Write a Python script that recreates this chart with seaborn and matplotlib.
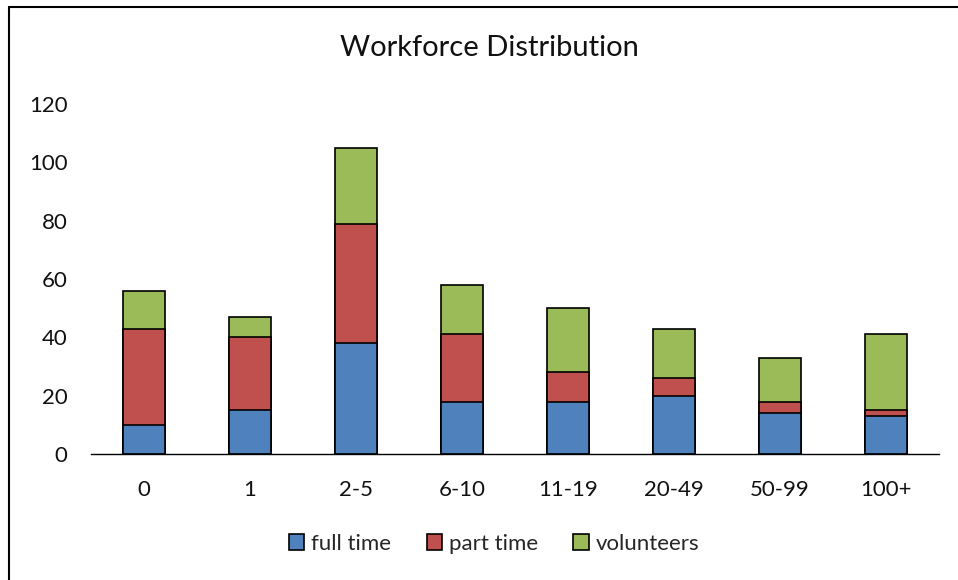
import numpy as np
import pandas as pd
import matplotlib
matplotlib.use("Agg")
import matplotlib.pyplot as plt
from matplotlib.lines import Line2D
import seaborn as sns

# data
sizes = ["0", "1", "2-5", "6-10", "11-19", "20-49", "50-99", "100+"]
full_time = [10, 15, 38, 18, 18, 20, 14, 13]
part_time = [33, 25, 41, 23, 10, 6, 4, 2]
volunteers = [13, 7, 26, 17, 22, 17, 15, 26]

df = pd.DataFrame({"size": sizes, "full time": full_time,
                   "part time": part_time, "volunteers": volunteers})
df["ft_pt"] = df["full time"] + df["part time"]
df["total"] = df["ft_pt"] + df["volunteers"]

sns.set_style("white")
plt.rcParams["font.family"] = ["Lato", "DejaVu Sans"]

fig = plt.figure(figsize=(9.58, 5.8), dpi=100)
ax = fig.add_axes([91/958, 1-454/580, (939-91)/958, (454-104)/580])

# stacked bars: draw cumulative totals back to front
sns.barplot(data=df, x="size", y="total", color="#9BBB59", width=0.4,
            edgecolor="black", linewidth=1.2, saturation=1, ax=ax, label="volunteers")
sns.barplot(data=df, x="size", y="ft_pt", color="#C0504D", width=0.4,
            edgecolor="black", linewidth=1.2, saturation=1, ax=ax, label="part time")
sns.barplot(data=df, x="size", y="full time", color="#4F81BD", width=0.4,
            edgecolor="black", linewidth=1.2, saturation=1, ax=ax, label="full time")

ax.set_ylim(0, 120)
ax.set_xlim(-0.5, len(sizes) - 0.5)
ax.set_yticks(np.arange(0, 121, 20))
ax.set_xlabel("")
ax.set_ylabel("")
ax.tick_params(axis="both", length=0, labelsize=16, colors="#111111")
ax.tick_params(axis="x", pad=19)
ax.tick_params(axis="y", pad=17)
for s in ["left", "top", "right"]:
    ax.spines[s].set_visible(False)
ax.spines["bottom"].set_color("black")
ax.spines["bottom"].set_linewidth(1.0)

fig.text(489/958, 1-48/580, "Workforce Distribution", ha="center", va="center",
         fontsize=21, color="#111111")

handles, labels = ax.get_legend_handles_labels()
order = [labels.index(l) for l in ["full time", "part time", "volunteers"]]
if ax.legend_:
    ax.legend_.remove()
fig.legend([handles[i] for i in order], [labels[i] for i in order],
           loc="center", bbox_to_anchor=(494/958, 1-544/580), ncol=3,
           frameon=False, fontsize=16, handlelength=0.7, handleheight=0.7,
           handletextpad=0.3, columnspacing=1.6)

# chart-area border (top and left edges visible)
fig.add_artist(Line2D([9/958, 1], [1-7/580, 1-7/580], color="black", lw=1.5))
fig.add_artist(Line2D([9/958, 9/958], [0, 1-7/580], color="black", lw=1.5))

fig.savefig("out.png", dpi=100)
